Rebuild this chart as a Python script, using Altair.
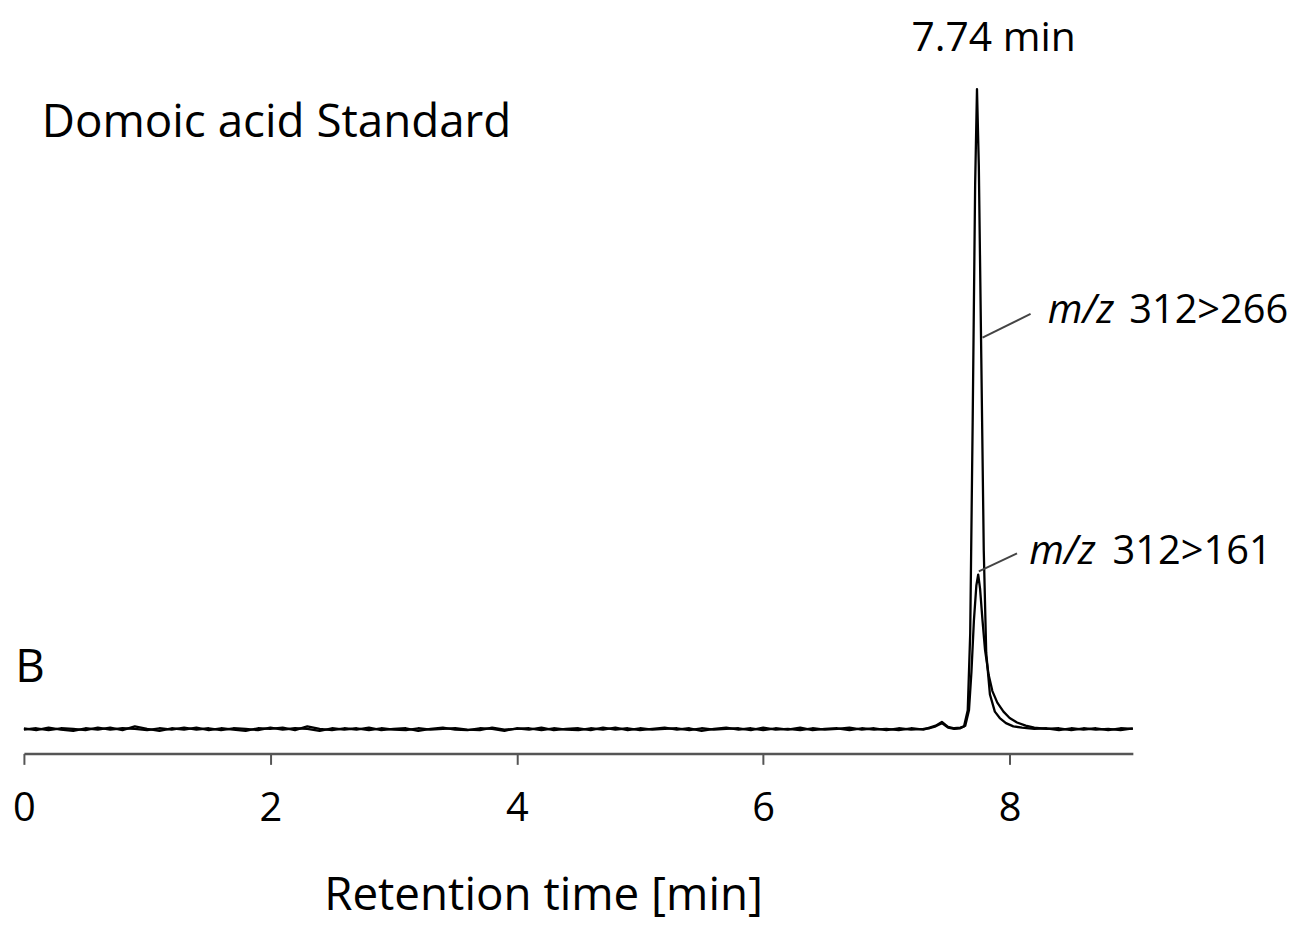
import altair as alt
import pandas as pd

# ---- data (relative intensity, % of the 312>266 peak) ----
base_t = [0.0, 0.1, 0.2, 0.3, 0.4, 0.5, 0.6, 0.7, 0.8, 0.9, 1.0, 1.1, 1.2, 1.3, 1.4, 1.5,
          1.6, 1.7, 1.8, 1.9, 2.0, 2.1, 2.2, 2.3, 2.4, 2.5, 2.6, 2.7, 2.8, 2.9, 3.0, 3.1,
          3.2, 3.3, 3.4, 3.5, 3.6, 3.7, 3.8, 3.9, 4.0, 4.1, 4.2, 4.3, 4.4, 4.5, 4.6, 4.7,
          4.8, 4.9, 5.0, 5.1, 5.2, 5.3, 5.4, 5.5, 5.6, 5.7, 5.8, 5.9, 6.0, 6.1, 6.2, 6.3,
          6.4, 6.5, 6.6, 6.7, 6.8, 6.9, 7.0, 7.1, 7.2, 7.3]

t_266 = base_t + [7.35, 7.4, 7.45, 7.5, 7.55, 7.6, 7.63, 7.66, 7.68, 7.70, 7.72, 7.735,
                  7.75, 7.77, 7.79, 7.81, 7.84, 7.88, 7.92, 7.97, 8.03, 8.1, 8.2, 8.3,
                  8.4, 8.5, 8.6, 8.7, 8.8, 8.9, 9.0]
i_266 = [0.2, -0.1, 0.3, 0.0, -0.2, 0.2, 0.0, 0.3, -0.1, 0.5, 0.1, -0.2, 0.2, 0.0, 0.3, -0.1,
         0.2, 0.0, -0.2, 0.2, 0.1, 0.3, -0.1, 0.5, 0.1, -0.1, 0.2, 0.0, 0.3, -0.1, 0.1, 0.2,
         -0.2, 0.1, 0.3, 0.0, -0.1, 0.2, 0.1, -0.2, 0.2, 0.0, 0.3, -0.1, 0.1, 0.2, -0.1, 0.3,
         0.0, 0.2, -0.1, 0.1, 0.3, 0.0, 0.2, -0.2, 0.1, 0.3, 0.0, 0.2, -0.1, 0.2, 0.0, 0.3,
         -0.1, 0.1, 0.2, -0.1, 0.2, 0.0, 0.1, -0.1, 0.2, 0.0,
         0.3, 0.6, 1.2, 0.4, 0.2, 0.3, 0.5, 3.0, 15.0, 48.0, 85.0, 100.0,
         88.0, 58.0, 28.0, 12.0, 5.5, 2.8, 1.8, 1.0, 0.5, 0.3, 0.1, 0.2,
         -0.1, 0.2, 0.0, 0.2, -0.1, 0.2, 0.1]

t_161 = base_t + [7.35, 7.4, 7.45, 7.5, 7.55, 7.6, 7.64, 7.67, 7.69, 7.71, 7.73, 7.745,
                  7.76, 7.78, 7.80, 7.83, 7.86, 7.90, 7.95, 8.0, 8.06, 8.13, 8.2, 8.3,
                  8.4, 8.5, 8.6, 8.7, 8.8, 8.9, 9.0]
i_161 = [0.0, 0.2, -0.1, 0.2, 0.1, -0.1, 0.3, 0.0, 0.2, 0.1, -0.1, 0.2, 0.0, 0.3, 0.0, 0.2,
         -0.1, 0.2, 0.1, -0.1, 0.3, 0.0, 0.2, 0.1, -0.2, 0.2, 0.0, 0.2, -0.1, 0.2, 0.0, -0.1,
         0.2, 0.0, 0.1, 0.2, 0.0, -0.1, 0.3, 0.0, 0.1, 0.2, -0.1, 0.2, 0.0, -0.1, 0.2, 0.0,
         0.3, -0.1, 0.2, 0.0, 0.1, 0.2, -0.1, 0.2, 0.0, 0.1, 0.2, -0.1, 0.3, 0.0, 0.1, -0.1,
         0.2, 0.0, 0.1, 0.3, 0.0, 0.2, -0.1, 0.2, 0.0, 0.1,
         0.2, 0.5, 1.0, 0.3, 0.1, 0.2, 0.6, 3.0, 9.0, 17.0, 22.5, 24.2,
         22.0, 17.0, 12.5, 8.5, 6.0, 4.2, 2.8, 1.8, 1.1, 0.6, 0.3, 0.1,
         0.2, -0.1, 0.2, 0.0, 0.1, -0.1, 0.2]

tick_values = [0, 2, 4, 6, 8]

# annotations (data coordinates, alphabetic baselines)
left_text = ["Domoic acid Standard", "B"]
left_x = [0.145, -0.07]
left_y = [92.5, 7.45]

peak_text = ["7.74 min"]
peak_x = [7.87]
peak_y = [105.9]

mz_italic = ["m/z", "m/z"]
mz_rest = ["312>266", "312>161"]
mz_x_italic = [8.31, 8.16]
mz_x_rest = [8.97, 8.835]
mz_y = [63.5, 25.8]

leader_x = [7.78, 7.75]
leader_x2 = [8.17, 8.06]
leader_y = [61.2, 24.7]
leader_y2 = [64.9, 27.5]

FONT = "Open Sans"

traces = pd.concat([
    pd.DataFrame({"t": t_266, "i": i_266, "trace": "312>266"}),
    pd.DataFrame({"t": t_161, "i": i_161, "trace": "312>161"}),
])

xscale = alt.Scale(domain=[0, 9], nice=False, zero=False)
yscale = alt.Scale(domain=[-3.73, 104.2], nice=False, zero=False)

lines = alt.Chart(traces).mark_line(color="black", strokeWidth=2.3, strokeJoin="round", clip=False).encode(
    x=alt.X("t:Q", scale=xscale,
            axis=alt.Axis(values=tick_values, format="d", title="Retention time [min]",
                          grid=False, tickSize=11, tickWidth=2, tickColor="#555",
                          domainColor="#555", domainWidth=2.5, labelFlush=False,
                          labelFont=FONT, labelFontSize=40, labelColor="black",
                          labelBaseline="alphabetic", labelPadding=56,
                          titleFont=FONT, titleFontSize=46, titleFontWeight="normal",
                          titleColor="black", titleX=522, titleY=157,
                          titleBaseline="alphabetic")),
    y=alt.Y("i:Q", scale=yscale, axis=None),
    detail="trace:N",
    order="t:Q",
)

left_df = pd.DataFrame({"text": left_text, "x": left_x, "y": left_y})
left_labels = alt.Chart(left_df).mark_text(font=FONT, fontSize=46, color="black",
                                           align="left", baseline="alphabetic").encode(
    x=alt.X("x:Q", scale=xscale), y=alt.Y("y:Q", scale=yscale), text="text:N")

peak_df = pd.DataFrame({"text": peak_text, "x": peak_x, "y": peak_y})
peak_label = alt.Chart(peak_df).mark_text(font=FONT, fontSize=41, color="black",
                                          align="center", baseline="alphabetic").encode(
    x=alt.X("x:Q", scale=xscale), y=alt.Y("y:Q", scale=yscale), text="text:N")

mz_df = pd.DataFrame({"it": mz_italic, "rest": mz_rest, "xi": mz_x_italic, "xr": mz_x_rest, "y": mz_y})
mz_it = alt.Chart(mz_df).mark_text(font=FONT, fontSize=40, fontStyle="italic", color="black",
                                   align="left", baseline="alphabetic").encode(
    x=alt.X("xi:Q", scale=xscale), y=alt.Y("y:Q", scale=yscale), text="it:N")
mz_rs = alt.Chart(mz_df).mark_text(font=FONT, fontSize=40, color="black",
                                   align="left", baseline="alphabetic").encode(
    x=alt.X("xr:Q", scale=xscale), y=alt.Y("y:Q", scale=yscale), text="rest:N")

lead_df = pd.DataFrame({"x": leader_x, "x2": leader_x2, "y": leader_y, "y2": leader_y2})
leaders = alt.Chart(lead_df).mark_rule(color="#444", strokeWidth=2).encode(
    x=alt.X("x:Q", scale=xscale), x2="x2:Q", y=alt.Y("y:Q", scale=yscale), y2="y2:Q")

chart = alt.layer(lines, leaders, left_labels, peak_label, mz_it, mz_rs).properties(
    width=1115, height=695, autosize="none", background="white",
    padding={"left": 16, "top": 52, "right": 156, "bottom": 168},
).configure_view(stroke=None)

chart.save("out.html", embed_options={"renderer": "svg", "actions": False})
